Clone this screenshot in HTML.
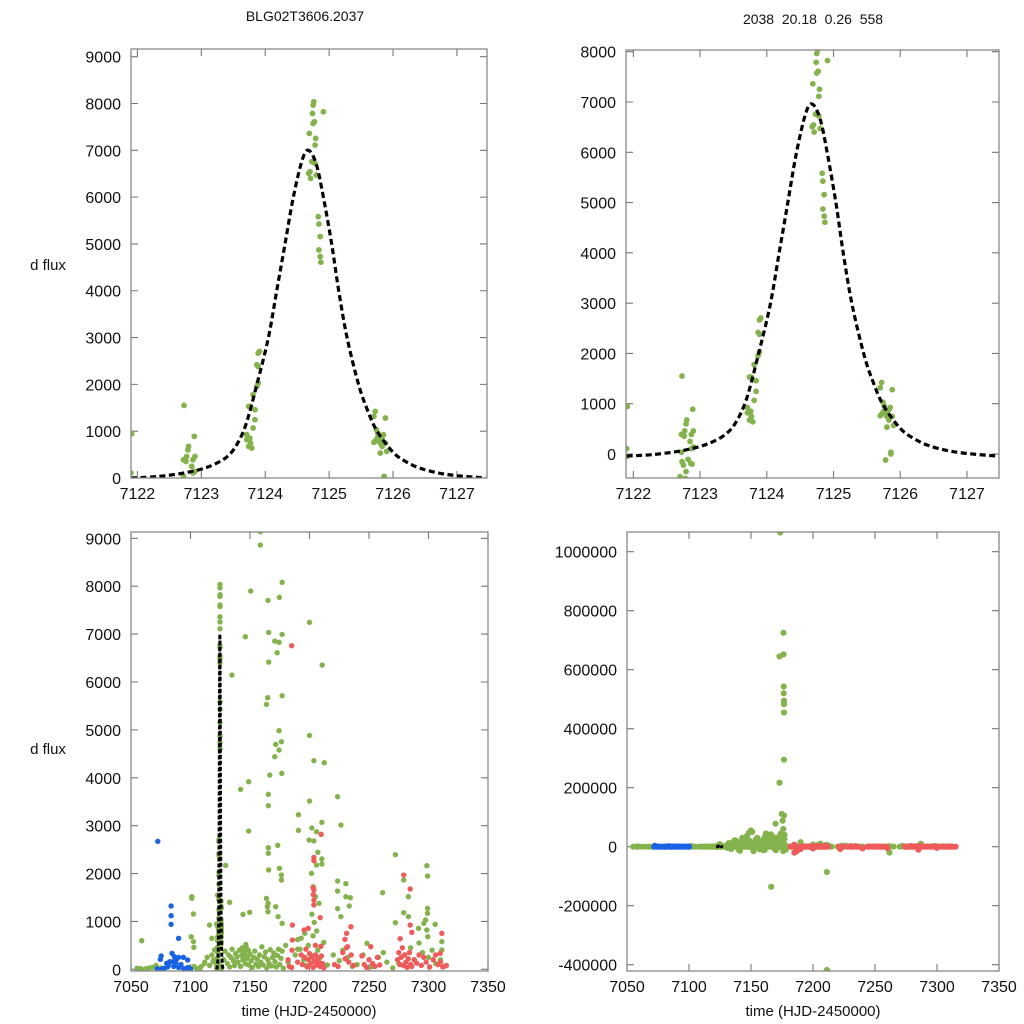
<!DOCTYPE html>
<html><head><meta charset="utf-8">
<style>
html,body{margin:0;padding:0;background:#fff;width:1024px;height:1024px;overflow:hidden;}
svg{display:block;font-family:"Liberation Sans",sans-serif;}
</style></head>
<body>
<svg id="fig" width="1024" height="1024" viewBox="0 0 1024 1024" xmlns="http://www.w3.org/2000/svg">
<rect width="1024" height="1024" fill="#fff"/>
<text x="305" y="21" font-size="14" text-anchor="middle" fill="#111">BLG02T3606.2037</text>
<text x="813" y="24" font-size="14" text-anchor="middle" fill="#111" xml:space="preserve">2038  20.18  0.26  558</text>
<text x="48" y="270" font-size="15" text-anchor="middle" fill="#111">d flux</text>
<text x="48" y="754" font-size="15" text-anchor="middle" fill="#111">d flux</text>
<text x="309" y="1016" font-size="15" text-anchor="middle" fill="#111">time (HJD-2450000)</text>
<text x="813" y="1016" font-size="15" text-anchor="middle" fill="#111">time (HJD-2450000)</text>
</svg>
<script>
// ---- model fit curve ----
const modelT = [7121.9,7122.3,7122.7,7123.0,7123.2,7123.4,7123.55,7123.7,7123.87,7124.05,7124.18,7124.31,7124.44,7124.58,7124.68,7124.8,7124.91,7125.04,7125.15,7125.28,7125.46,7125.6,7125.75,7126.0,7126.2,7126.42,7126.7,7127.0,7127.45];
const modelV = [0,30,100,190,290,450,700,1150,2000,3000,4000,5000,6000,6800,7000,6700,6000,5000,4000,3000,2000,1450,1000,550,350,210,110,50,0];
const trModelOffset = -40;
// ---- zoomed peak data (green) ----
const peakT = [7121.91,7121.90,7121.90,7122.73,7122.72,7122.77,7122.79,7122.80,7122.76,7122.72,7122.89,7122.90,7122.87,7122.85,7122.90,7122.87,7122.70,7122.78,7122.73,7122.75,7122.79,7122.82,7122.86,7122.88,
7123.71,7123.74,7123.77,7123.79,7123.76,7123.81,7123.84,7123.74,7123.77,7123.84,7123.81,7123.87,7123.89,7123.87,7123.89,7123.91,7123.89,7123.71,
7124.76,7124.75,7124.74,7124.77,7124.75,7124.91,7124.69,7124.79,7124.78,7124.70,7124.68,7124.71,7124.78,7124.80,7124.73,7124.83,7124.84,7124.86,7124.84,7124.86,7124.87,
7125.72,7125.70,7125.74,7125.76,7125.79,7125.70,7125.72,7125.80,7125.85,7125.88,7125.83,7125.80,7125.88,7125.90,7125.86,7125.75,7125.83,7125.78,7125.86];
const peakV = [946,107,-50,1550,390,460,600,676,355,35,890,460,390,250,140,107,-450,-484,-152,-220,-350,-106,-186,-200,
925,676,747,640,850,1067,1245,1530,1530,1458,1778,1956,2027,2418,2383,2703,2667,820,
8037,7965,7788,7610,7575,7823,7361,7254,7112,6543,6508,6401,6721,6472,6757,5583,5426,5157,4872,4730,4609,
1422,1316,1031,960,818,761,790,747,925,1280,676,533,747,569,35,850,880,-120,0];
// ---- full season: green ----
const greenT = [7158.7,7158.7,7177.0,7150.6,7165.2,7174.7,7200.0,7146.1,7165.7,7177.0,7170.8,7174.4,7172.8,7165.7,7210.7,7134.8,7164.9,7163.8,7177.0,7174.4,7171.6,7176.4,7174.4,7170.8,7200.0,7203.7,7212.4,7166.6,7176.7,7142.1,7148.9,7223.6,7165.4,7165.4,7200.0,7226.4,7190.7,7190.7,7148.9,7202.0,7210.4,7205.9,7203.7,7199.7,7165.4,7165.4,7173.3,7207.0,7210.4,7210.4,7205.9,7129.5,7174.7,7165.7,7176.4,7176.4,7272.2,7298.6,7299.2,7279.2,7261.5,7223.6,7230.6,7223.6,7230.6,7234.3,7233.4,7223.6,7226.4,7101.1,7101.1,7102.5,7100.6,7102.5,7102.8,7059.0,7132.9,7144.1,7149.7,7163.8,7165.2,7164.6,7165.2,7171.6,7173.6,7177.0,7299.2,7299.2,7297.5,7296.1,7298.6,7299.4,7291.6,7283.1,7283.1,7279.2,7272.2,7305.6,7311.2,7311.2,7248.3,
7116,7118,7120.2,7119.5,7111.8,7109,7201.7,7203,7205,7208,7202,7204,7206,7196,7193,7190,
7055,7062,7068,7071,7075,7103,7108,7112,7114,7116,7118,7119,7126,7128,7129,7131,7132,7133,7134,7135,7136,7137,7138,7139,7140,7141,7142,7143,7144,7145,7146,7147,7148,7149,7150,7151,7152,7153,7154,7155,7156,7157,7158,7159,7160,7161,7162,7163,7164,7165,7166,7167,7168,7169,7170,7171,7172,7173,7174,7175,7176,7177,7178,7180,7182,7188,7190,7192,7195,7197,7199,7201,7203,7205,7207,7209,7212,7215,7220,7225,7228,7232,7236,7240,7245,7252,7258,7262,7265,7270,7275,7280,7285,7288,7292,7295,7300,7303,7306,7310,7313,7143.5,7144.5,7145.5,7146.5,7147.5,7148.5,7058,7065,7100,7105,7122,7124,
7173.6,7176.2,7173,7176.2,7176.4,7176.4,7176.6,7176.6,7176.6,7176.6,7173,7174.8,7176.6,7175.5,7169.8,7166.3,7211.2,7211.2,7261.7,7150,7148.5,7151,7145,7140,7137,7155,7158,7162,7164,7167,7170,7172,7174,7176,7177,7160,7140,7152,7170,7176,7190,7206,7287,
7132,7134,7136,7138,7141,7143,7146,7147,7149,7152,7154,7156,7157,7159,7161,7163,7165,7166,7168,7169,7171,7173,7175,7177,7178,7142,7153,7161,7167,7174,7131,7144,7158,7171];
const greenV = [9137,8859,8080,7898,7704,7767,7245,6945,7035,6994,6855,6827,6611,6416,6353,6145,5672,5532,5713,4983,4697,4753,4579,4440,4885,4356,4314,4057,4092,3758,3918,3605,3653,3417,3514,3013,3229,2902,2888,2951,3069,2874,2680,2700,2540,2422,2589,2443,2304,2199,2178,2171,2109,2074,1969,1865,2394,2164,1948,1865,1601,1844,1788,1635,1517,1496,1322,1267,1100,1517,1482,1155,682,578,459,598,1399,1148,1190,1482,1378,1308,1204,1308,1100,960,1273,1169,1030,960,821,682,856,1100,1517,1183,974,939,578,404,543,
925,647,404,195,125,60,2004,1726,1517,1378,1150,980,800,751,650,420,
20,10,40,80,30,60,20,150,250,80,300,160,60,200,380,120,300,50,250,420,180,80,330,260,150,400,60,290,200,350,120,450,270,90,320,180,40,250,380,110,220,60,300,150,470,90,260,360,30,200,120,410,70,250,340,160,50,290,420,100,230,380,20,500,150,300,620,420,200,80,500,300,700,150,400,250,560,90,300,180,400,250,60,100,300,50,250,350,150,30,120,300,450,200,550,350,250,400,120,200,60,450,380,300,520,230,400,15,25,10,20,30,90,
1065000,725000,645000,652000,543000,520000,495000,483000,455000,295000,217000,111000,106000,88000,78000,-136000,-86000,-418000,-20000,55000,48000,50000,25000,15000,22000,30000,20000,45000,40000,35000,30000,28000,45000,60000,40000,-12000,-10000,-15000,-12000,-15000,15000,10000,10000,
12000,-8000,18000,20000,-14000,30000,12000,38000,20000,-6000,25000,10000,-9000,15000,32000,20000,20000,42000,18000,-7000,22000,35000,15000,26000,-10000,12000,14000,-11000,21000,16000,-4000,19000,-3000,-5000];
// ---- red series ----
const redT = [7182,7183,7185,7190,7193,7194,7196,7197,7198,7199,7200,7201,7202,7203,7204,7205,7206,7207,7208,7209,7210,7211,7212,7221,7224,7228,7230,7231,7233,7235,7237,7244,7246,7248,7250,7253,7255,7257,7259,7274,7275,7276,7277,7278,7279,7280,7281,7282,7283,7284,7285,7286,7288,7290,7292,7294,7296,7298,7301,7304,7306,7308,7310,7312,7315,
7185,7209.8,7203.7,7203.7,7203.1,7203.7,7203.1,7203.7,7203.7,7209,7279.2,7284.6,7284.6,7286,7234.8,7231.2,7232,7229.8,7251.5,7276.2,7311.2,7309.8,7185.6,7185.6,7195.5,7198.9,7205,7209.6,7185.3,
7185,7187,7190,7200,7222,7240,7285,7260,7300];
const redV = [200,60,40,150,300,100,250,420,50,200,330,120,260,40,180,300,90,220,150,60,280,120,30,100,60,350,220,450,150,300,80,280,100,40,200,120,60,250,90,200,350,100,250,450,80,300,150,40,220,350,100,60,200,130,300,80,250,150,50,200,300,100,150,50,80,
6757,2818,2338,2269,1705,1656,1560,1447,1343,1079,1969,1677,925,772,890,751,473,626,473,640,751,334,925,612,821,856,500,480,400,
-20000,-15000,-8000,-6000,-8000,-6000,-10000,-5000,-4000];
// ---- blue series ----
const blueT = [7072.5,7083.7,7083.7,7083.7,7090,7075.3,7074.7,7084.5,7086.5,7088,7085,7090,7094,7097.6,7080,7081.5,7086,7090,7098,7094.3,7080.7,7082.6,7087.6,7078,7092,7072,7076,7096,7100];
const blueV = [2672,1322,1120,939,647,278,209,334,264,200,160,250,250,195,125,80,60,40,40,10,50,160,130,20,100,10,5,15,10];

// ---- panels ----
const NS = 'http://www.w3.org/2000/svg';
const svg = document.getElementById('fig');
const GREEN = '#84b24c', RED = '#ef5b5b', BLUE = '#1a62e4';
const panels = [
  {name:'top-left', x0:131, x1:487, y0:49, y1:478, xd:[7121.9,7127.47], yd:[0,9164], xt:[7122,7123,7124,7125,7126,7127], yt:[0,1000,2000,3000,4000,5000,6000,7000,8000,9000], r:2.9, zoom:true, off:0},
  {name:'top-right', x0:626, x1:999, y0:50, y1:478, xd:[7121.89,7127.48], yd:[-477,8034], xt:[7122,7123,7124,7125,7126,7127], yt:[0,1000,2000,3000,4000,5000,6000,7000,8000], r:2.9, zoom:true, off:trModelOffset},
  {name:'bottom-left', x0:131, x1:488, y0:532, y1:971, xd:[7050,7350], yd:[-35,9132], xt:[7050,7100,7150,7200,7250,7300,7350], yt:[0,1000,2000,3000,4000,5000,6000,7000,8000,9000], r:2.7, zoom:false, off:0},
  {name:'bottom-right', x0:627, x1:999, y0:532, y1:971, xd:[7050,7350], yd:[-421400,1066800], xt:[7050,7100,7150,7200,7250,7300,7350], yt:[-400000,-200000,0,200000,400000,600000,800000,1000000], r:3.1, zoom:false, off:0}
];

function mk(tag, attrs, parent){ const e=document.createElementNS(NS,tag); for(const k in attrs) e.setAttribute(k,attrs[k]); (parent||svg).appendChild(e); return e; }

function smoothPath(pts){
  let d = 'M'+pts[0][0].toFixed(2)+','+pts[0][1].toFixed(2);
  for(let i=0;i<pts.length-1;i++){
    const p0=pts[Math.max(0,i-1)], p1=pts[i], p2=pts[i+1], p3=pts[Math.min(pts.length-1,i+2)];
    const c1=[p1[0]+(p2[0]-p0[0])/6, p1[1]+(p2[1]-p0[1])/6];
    const c2=[p2[0]-(p3[0]-p1[0])/6, p2[1]-(p3[1]-p1[1])/6];
    d+=' C'+c1[0].toFixed(2)+','+c1[1].toFixed(2)+' '+c2[0].toFixed(2)+','+c2[1].toFixed(2)+' '+p2[0].toFixed(2)+','+p2[1].toFixed(2);
  }
  return d;
}

panels.forEach((p,pi)=>{
  const sx = v => p.x0 + (v-p.xd[0])/(p.xd[1]-p.xd[0])*(p.x1-p.x0);
  const sy = v => p.y1 - (v-p.yd[0])/(p.yd[1]-p.yd[0])*(p.y1-p.y0);
  const g = mk('g',{});
  
  
  const cp = mk('clipPath',{id:'clip'+pi}, g);
  mk('rect',{x:p.x0,y:p.y0,width:p.x1-p.x0,height:p.y1-p.y0}, cp);
  p.xt.forEach(t=>{
    const x=sx(t);
    const tk = mk('path',{d:`M${x},${p.y1}v-7M${x},${p.y0}v7`,stroke:'#777','stroke-width':1.1,fill:'none'}, g);
    
    
    const lb = mk('text',{x:x,y:p.y1+21,'font-size':16,'text-anchor':'middle',fill:'#111'}, g);
    
    
    lb.textContent = t;
  });
  p.yt.forEach(t=>{
    const y=sy(t);
    const tk = mk('path',{d:`M${p.x0},${y}h7M${p.x1},${y}h-7`,stroke:'#777','stroke-width':1.1,fill:'none'}, g);
    
    
    const lb = mk('text',{x:p.x0-10,y:y+6,'font-size':16,'text-anchor':'end',fill:'#111'}, g);
    
    
    lb.textContent = t;
  });
  const plot = mk('g',{'clip-path':`url(#clip${pi})`}, g);
  
  
  function dots(T,V,color,nm){
    for(let i=0;i<T.length;i++){
      const c = mk('circle',{cx:sx(T[i]).toFixed(2),cy:sy(V[i]).toFixed(2),r:p.r,fill:color}, plot);
      
      
    }
  }
  if(p.zoom){
    dots(peakT,peakV,GREEN,'data-point');
  } else {
    dots(greenT,greenV,GREEN,'data-point-green');
    dots(peakT,peakV,GREEN,'data-point-green');
    dots(redT,redV,RED,'data-point-red');
    dots(blueT,blueV,BLUE,'data-point-blue');
  }
  const pts = modelT.map((t,i)=>[sx(t), sy(modelV[i]+p.off)]);
  const line = mk('path',{d:smoothPath(pts),fill:'none',stroke:'#000','stroke-width':p.zoom?3.2:3,'stroke-dasharray':p.zoom?'6,3.5':'4,2'}, plot);
  
  
  const fr = mk('rect',{x:p.x0,y:p.y0,width:p.x1-p.x0,height:p.y1-p.y0,fill:'none',stroke:'#888','stroke-width':1.3}, g);
  
  
});
</script>
</body></html>
